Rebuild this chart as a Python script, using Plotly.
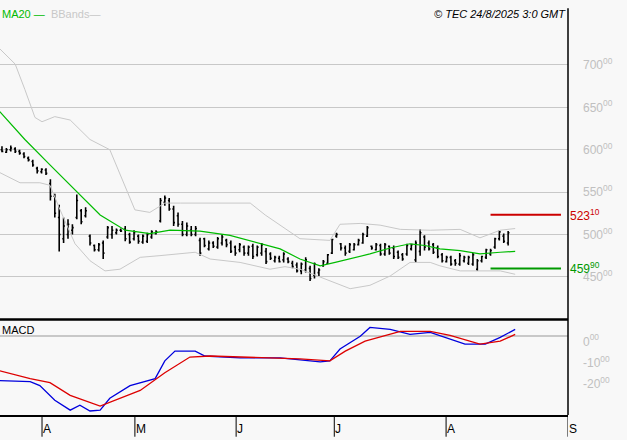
import plotly.graph_objects as go

# Price bars (one per trading day)
highs = [604, 602, 605, 603, 600, 597, 592, 588, 580, 578, 578, 565, 548, 535, 520, 518, 512, 547, 530, 532,
         500, 488, 490, 493, 510, 510, 507, 507, 510, 502, 505, 500, 500, 502, 505, 505,
         543, 546, 543, 534, 526, 516, 514, 510, 510, 496, 496, 493, 492, 497, 500, 495, 493, 487, 490, 487,
         487, 489, 487, 490, 484, 479, 475, 475, 479, 473, 469, 467, 467, 473, 463, 467, 460, 470, 477, 495,
         502, 490, 487, 490, 490, 495, 502, 510, 487, 490, 489, 490, 487, 487, 481, 478, 489, 489, 493, 506,
         499, 493, 490, 487, 478, 475, 475, 471, 478, 475, 475, 478, 471, 475, 483, 483, 496, 505, 501, 504]
lows = [597, 596, 598, 596, 594, 590, 586, 580, 572, 572, 570, 540, 520, 480, 490, 495, 500, 518, 512, 520,
        487, 480, 480, 471, 495, 495, 500, 503, 492, 489, 493, 489, 489, 490, 495, 500,
        514, 534, 528, 510, 509, 498, 498, 498, 498, 475, 485, 481, 484, 483, 487, 485, 478, 475, 479, 475,
        475, 471, 474, 475, 465, 470, 467, 467, 467, 466, 460, 455, 453, 455, 445, 448, 451, 462, 465, 477,
        496, 481, 475, 478, 481, 487, 489, 497, 482, 481, 475, 475, 476, 471, 471, 469, 475, 481, 467, 475,
        481, 481, 477, 472, 467, 467, 463, 463, 463, 467, 464, 463, 457, 467, 471, 475, 483, 493, 490, 487]
opens = [600, 597, 600, 601, 598, 595, 590, 586, 578, 574, 576, 560, 545, 520, 495, 500, 505, 520, 528, 522,
         498, 487, 482, 490, 497, 500, 502, 505, 506, 500, 495, 498, 491, 492, 497, 501,
         516, 538, 540, 530, 522, 512, 500, 505, 500, 493, 495, 483, 490, 485, 490, 493, 490, 485, 482, 485,
         478, 486, 476, 478, 480, 477, 469, 472, 470, 471, 466, 464, 457, 458, 460, 452, 455, 463, 466, 478,
         498, 489, 484, 480, 482, 488, 490, 498, 486, 482, 487, 477, 486, 484, 479, 476, 477, 483, 470, 480,
         497, 490, 488, 484, 476, 468, 473, 469, 465, 469, 466, 465, 459, 469, 473, 477, 485, 495, 498, 490]
closes = [598, 600, 602, 598, 596, 592, 588, 582, 575, 577, 572, 545, 525, 500, 510, 512, 508, 540, 515, 528,
          490, 482, 488, 478, 508, 505, 505, 504, 495, 491, 502, 492, 498, 500, 503, 503,
          540, 543, 530, 514, 512, 500, 510, 500, 507, 478, 487, 490, 486, 495, 497, 488, 480, 478, 488, 478,
          485, 474, 485, 488, 468, 472, 473, 468, 477, 468, 462, 457, 465, 470, 448, 465, 458, 468, 476, 494,
          500, 484, 478, 488, 488, 493, 500, 508, 484, 488, 477, 488, 478, 474, 473, 471, 487, 488, 490, 502,
          485, 483, 479, 474, 469, 473, 465, 466, 475, 473, 473, 476, 469, 474, 482, 481, 495, 503, 492, 502]

# MA20 and Bollinger bands (read at sample bars)
ma_x = [-0.5, 5.2, 10.9, 16.6, 22.3, 28, 33.6, 38.2, 45, 51.8, 58.6, 63.2, 67.7, 72.3, 75.7, 79.1, 83.6,
        88.2, 92.7, 96.1, 99.5, 104.1, 108.6, 113.2, 116.6]
ma20 = [645, 612, 582, 552, 523, 505, 501, 505, 504, 499, 489, 483, 471, 463, 467, 471, 477,
        484, 489, 487, 483, 481, 477, 479, 480]
up_x = [-0.5, 3, 5.2, 7.5, 9.1, 12, 15.5, 20, 24.5, 30.2, 33.6, 37, 40.5, 56.4, 59.8, 63.2, 67.7, 74.5,
        76.8, 81.4, 85.9, 90.5, 97.3, 104.1, 108.6, 113.2, 116.6]
upper = [719, 701, 671, 638, 633, 639, 635, 612, 600, 529, 526, 537, 537, 537, 523, 511, 495, 493,
         512, 513, 511, 506, 505, 506, 496, 505, 507]
lo_x = [-0.5, 4.1, 8.6, 10.9, 13.2, 16.6, 20, 23.4, 26.8, 31.4, 35.9, 43.9, 47.3, 54.1, 60.9, 64.3, 67.7,
        74.5, 79.1, 83.6, 88.2, 92.7, 97.3, 99.5, 104.1, 108.6, 113.2, 116.6]
lower = [573, 561, 561, 558, 529, 489, 469, 457, 459, 473, 475, 479, 471, 467, 459, 462, 459,
         445, 436, 440, 451, 467, 467, 463, 457, 457, 457, 453]

# MACD
macd_x = [-0.5, 6.4, 8.6, 12, 15.5, 17.7, 20, 22.3, 24.5, 29.1, 34.8, 37, 39.3, 43.9, 46.1, 54.1, 63.2,
          67.7, 72.3, 74.5, 76.8, 81.4, 83.6, 88.2, 92.7, 97.3, 100.7, 105.2, 109.8, 113.2, 116.6]
macd = [-20.9, -21.4, -23.3, -30.2, -34.9, -32.6, -35.3, -34.9, -29.3, -23.3, -20, -11.6, -7, -7, -9.3,
        -10.2, -10.2, -11.2, -12.1, -11.6, -6, 0, 4.2, 3.3, 0.9, 1.9, -0.5, -3.7, -3.7, -0.5, 3.3]
sig_x = [-0.5, 6.4, 10.9, 15.5, 22.3, 25.7, 31.4, 37, 42.7, 47.3, 67.7, 74.5, 78, 82.5, 90.5, 97.3,
         101.8, 108.6, 113.2, 116.6]
signal = [-16.3, -20, -21.9, -27.9, -33, -30.2, -25.6, -17.2, -9.8, -9.3, -10.7, -11.6, -7, -2.3, 2.3,
          2.3, 0.5, -3.7, -2.3, 0.9]

levels = [523.10, 459.90]
level_text = ["523<sup>10</sup>", "459<sup>90</sup>"]
level_colors = ["#cc0000", "#009900"]

price_ticks = [450, 500, 550, 600, 650, 700]
macd_ticks = [-20, -10, 0]
month_pos = [9.1, 30.2, 53.2, 75.5, 100.9, 128.6]
month_lbl = ["A", "M", "J", "J", "A", "S"]

BG = "#f8f8f8"
GRID = "#c8c8c8"
FONT = "Liberation Sans"

fig = go.Figure()
fig.add_trace(go.Scatter(x=up_x, y=upper, mode="lines", line=dict(color="#c8c8c8", width=1), yaxis="y"))
fig.add_trace(go.Scatter(x=lo_x, y=lower, mode="lines", line=dict(color="#c8c8c8", width=1), yaxis="y"))
fig.add_trace(go.Scatter(x=ma_x, y=ma20, mode="lines", line=dict(color="#00bb00", width=1.2), yaxis="y"))
fig.add_trace(go.Ohlc(x=list(range(len(closes))), open=opens, high=highs, low=lows, close=closes,
                      increasing_line_color="black", decreasing_line_color="black",
                      line_width=1.6, tickwidth=0.3, yaxis="y"))
fig.add_trace(go.Scatter(x=macd_x, y=macd, mode="lines", line=dict(color="#0000dd", width=1.3), yaxis="y2"))
fig.add_trace(go.Scatter(x=sig_x, y=signal, mode="lines", line=dict(color="#dd0000", width=1.3), yaxis="y2"))

shapes = []
annotations = []
for lv, txt, col in zip(levels, level_text, level_colors):
    shapes.append(dict(type="line", xref="x", yref="y", x0=111, x1=127, y0=lv, y1=lv,
                       line=dict(color=col, width=2)))
    annotations.append(dict(xref="paper", yref="y", x=1.0, y=lv, text=txt, showarrow=False,
                            xanchor="left", font=dict(color=col, size=12, family=FONT)))

# pane separator, right frame and month ticks
shapes.append(dict(type="line", xref="paper", yref="paper", x0=0, x1=1, y0=0.2415, y1=0.2415,
                   line=dict(color="black", width=2.5)))
shapes.append(dict(type="line", xref="paper", yref="paper", x0=1, x1=1, y0=0, y1=1.03,
                   line=dict(color="black", width=1.5)))
for pos, lbl in zip(month_pos, month_lbl):
    shapes.append(dict(type="line", xref="x", yref="paper", x0=pos, x1=pos, y0=0, y1=-0.055,
                       line=dict(color="black", width=1)))
    annotations.append(dict(xref="x", yref="paper", x=pos, y=-0.058, yanchor="bottom",
                            text=lbl, showarrow=False, xanchor="left", xshift=-1,
                            font=dict(size=12, color="black", family=FONT)))

annotations += [
    dict(xref="paper", yref="paper", x=0.0, y=1.0, yshift=14, xanchor="left", showarrow=False,
         text="<span style='color:#00bb00'>MA20 —</span>  <span style='color:#c8c8c8'>BBands—</span>",
         font=dict(size=11, family=FONT)),
    dict(xref="paper", yref="paper", x=1.0, y=1.0, yshift=14, xanchor="right", showarrow=False,
         text="<i>© TEC 24/8/2025 3:0 GMT</i>", font=dict(size=11, color="black", family=FONT)),
    dict(xref="paper", yref="paper", x=0.0, y=0.235, xanchor="left", yanchor="top", showarrow=False,
         text="MACD", font=dict(size=11, color="black", family=FONT)),
]

fig.update_layout(
    width=627, height=440, autosize=False,
    margin=dict(l=0, r=59, t=20, b=25, autoexpand=False),
    paper_bgcolor=BG, plot_bgcolor=BG,
    showlegend=False,
    font=dict(family=FONT),
    xaxis=dict(anchor="y2", range=[-0.45, 128.6], showgrid=False, zeroline=False,
               rangeslider=dict(visible=False), showticklabels=False, automargin=False,
               showline=True, linecolor="black", linewidth=1.5),
    yaxis=dict(domain=[0.25, 1.0], range=[403.5, 753], side="right", tickvals=price_ticks,
               ticktext=[f"{v}<sup>00</sup>" for v in price_ticks], gridcolor=GRID, gridwidth=1,
               zeroline=False, ticklabelstandoff=14, automargin=False,
               tickfont=dict(color="#c0c0c0", size=12, family=FONT)),
    yaxis2=dict(domain=[0.0, 0.2415], range=[-37.2, 7.9], side="right", tickvals=macd_ticks,
                ticktext=[f"{v}<sup>00</sup>" for v in macd_ticks], showgrid=False,
                zeroline=True, zerolinecolor=GRID, ticklabelshift=5, ticklabelstandoff=14,
                automargin=False, tickfont=dict(color="#c0c0c0", size=12, family=FONT)),
    shapes=shapes,
    annotations=annotations,
)

fig.write_html("out.html", config={"displayModeBar": False},
               post_script="document.body.style.margin='0';")
